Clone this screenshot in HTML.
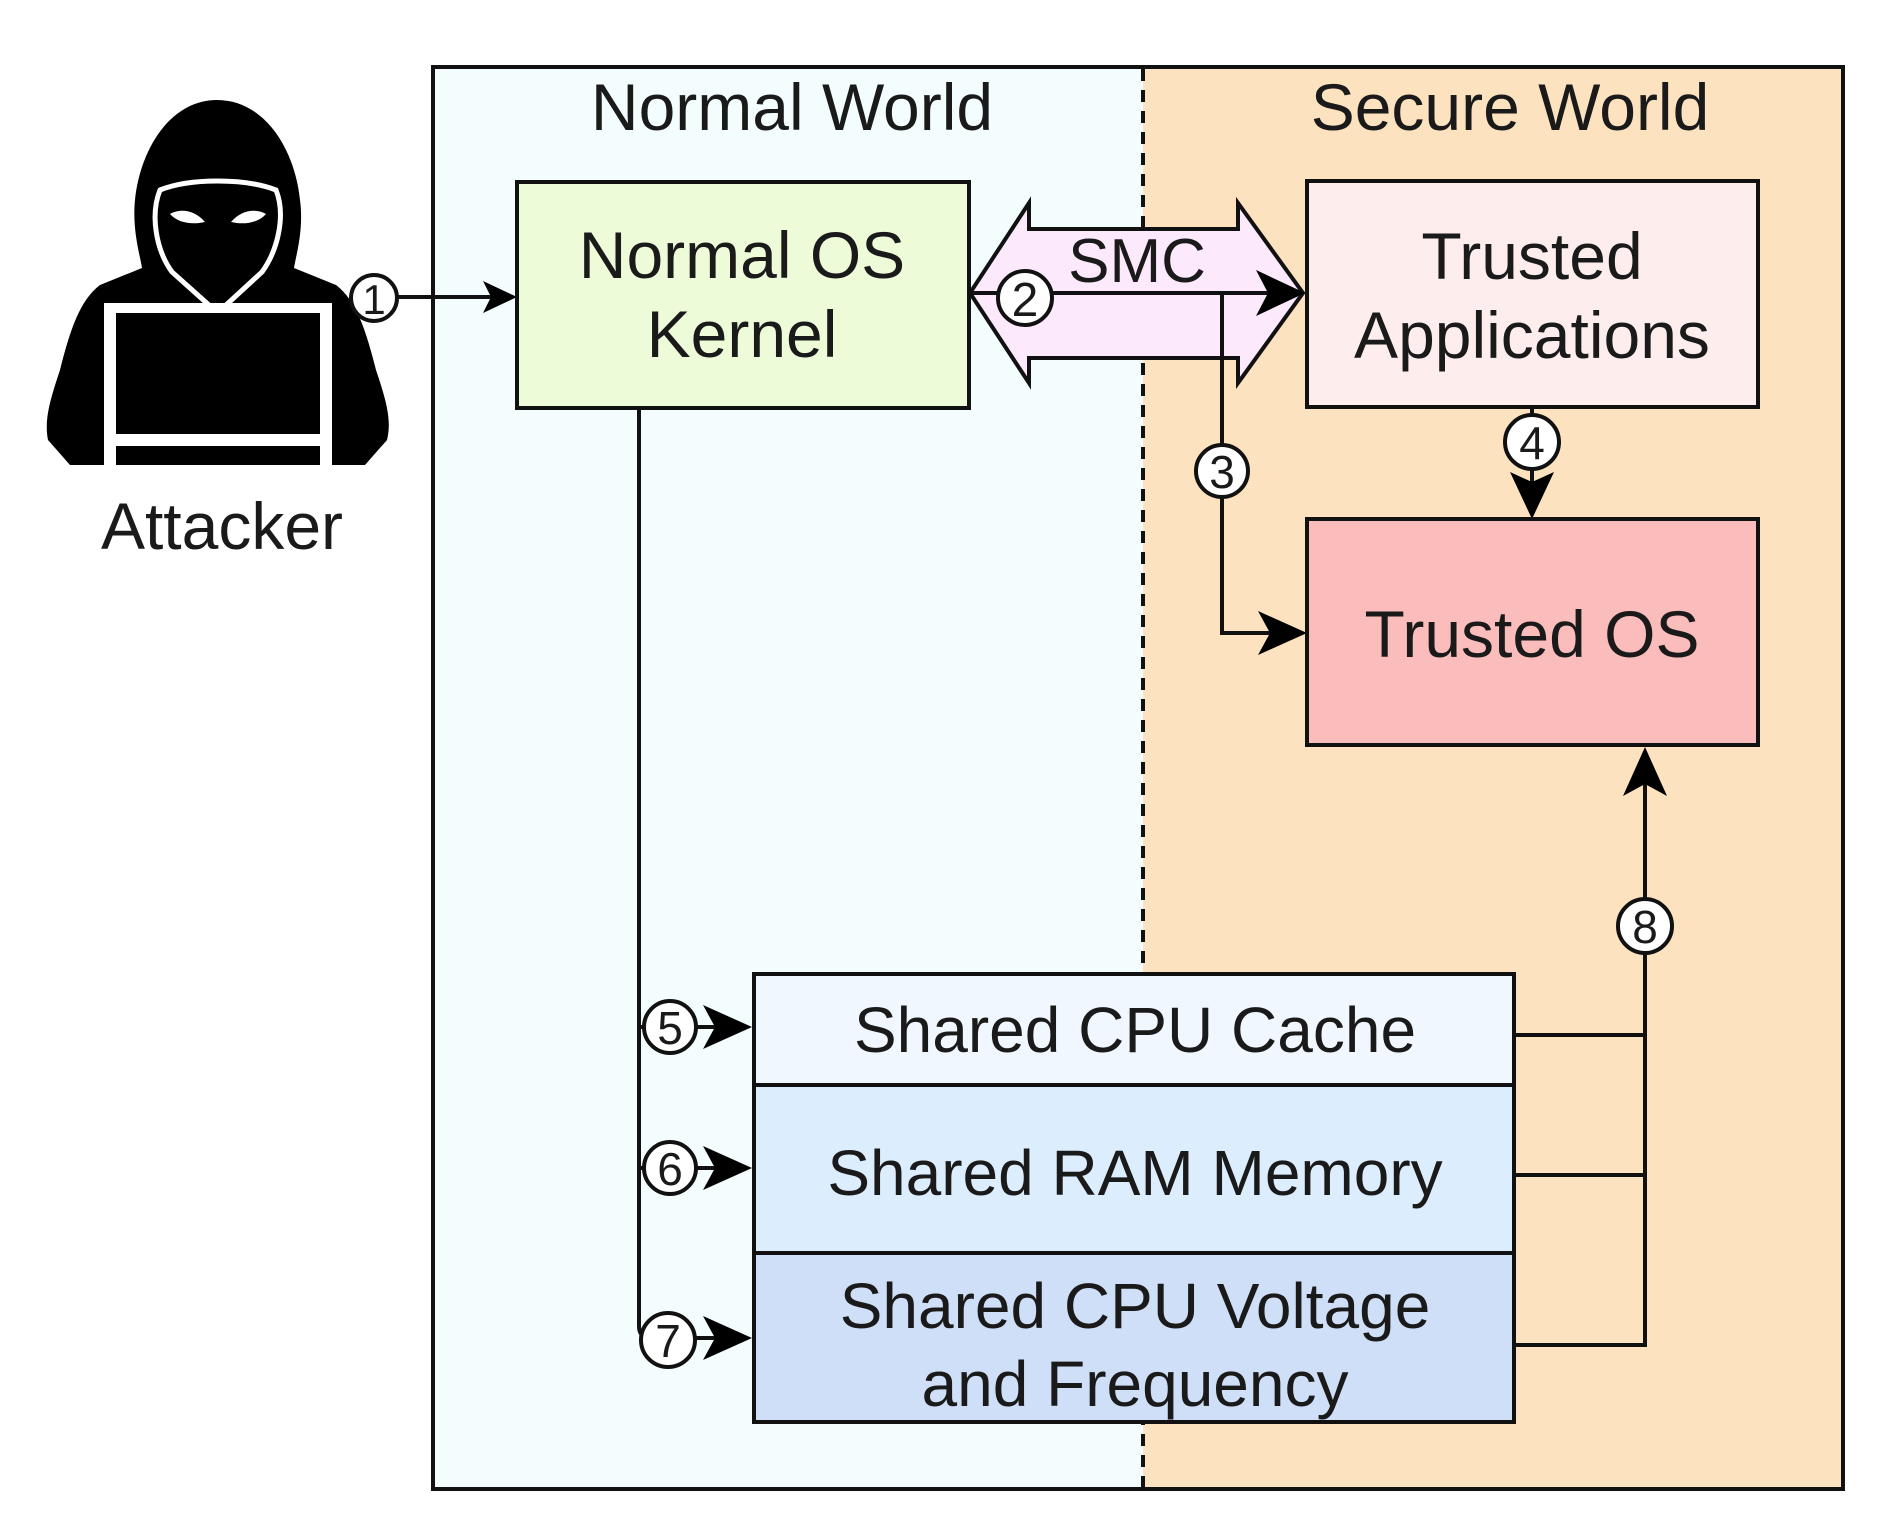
<!DOCTYPE html>
<html><head><meta charset="utf-8"><style>
html,body{margin:0;padding:0;background:#fff;}
svg{display:block;}
text{font-family:"Liberation Sans",sans-serif;fill:#1a1a1a;}
</style></head><body>
<svg width="1892" height="1519" viewBox="0 0 1892 1519" xmlns="http://www.w3.org/2000/svg">
<!-- world backgrounds -->
<rect x="433" y="67" width="710" height="1422" fill="#f3fdfd"/>
<rect x="1143" y="67" width="700" height="1422" fill="#fde2c0"/>
<rect x="433" y="67" width="1410" height="1422" fill="none" stroke="#111" stroke-width="4"/>
<line x1="1143" y1="69" x2="1143" y2="1487" stroke="#111" stroke-width="4" stroke-dasharray="12,9"/>
<text x="792" y="130" font-size="66" text-anchor="middle">Normal World</text>
<text x="1510" y="130" font-size="66" text-anchor="middle">Secure World</text>

<!-- attacker icon -->
<g>
<path d="M217 100 C170 100 140 150 135 200 C132 230 140 255 142 268 L100 285 C80 300 70 330 60 370 C50 400 44 420 48 440 L70 465 L365 465 L387 440 C392 420 386 400 376 370 C366 330 356 300 336 285 L294 268 C296 255 304 230 300 200 C295 150 265 100 217 100 Z" fill="#000"/>
<path d="M160 190 C190 178 245 178 276 190 C286 215 278 250 262 272 L225 306 L210 306 L172 272 C156 250 150 215 160 190 Z" fill="#000" stroke="#fff" stroke-width="5"/>
<path d="M170 214 C180 208 195 210 205 222 C192 225 178 223 170 214 Z" fill="#fff"/>
<path d="M266 214 C256 208 241 210 231 222 C244 225 258 223 266 214 Z" fill="#fff"/>
<rect x="104" y="303" width="228" height="162" fill="#fff"/>
<rect x="116" y="313" width="204" height="121" fill="#000"/>
<rect x="116" y="446" width="204" height="19" fill="#000"/>
</g>
<text x="222" y="549" font-size="66" text-anchor="middle">Attacker</text>

<!-- arrow 1 -->
<line x1="396" y1="297" x2="505" y2="297" stroke="#111" stroke-width="4"/>
<path d="M517 297 L483 281 L491 297 L483 313 Z" fill="#000"/>
<circle cx="374" cy="298" r="23" fill="#fff" stroke="#111" stroke-width="4"/>
<text x="374" y="314" font-size="42" text-anchor="middle">1</text>

<!-- Normal OS Kernel -->
<rect x="517" y="182" width="452" height="226" fill="#eefbd9" stroke="#111" stroke-width="4"/>
<text x="742" y="278" font-size="66" text-anchor="middle">Normal OS</text>
<text x="742" y="357" font-size="66" text-anchor="middle">Kernel</text>

<!-- SMC double arrow -->
<path d="M970 293 L1029 203 L1029 229 L1238 229 L1238 203 L1303 293 L1238 383 L1238 358 L1029 358 L1029 383 Z" fill="#fce9fb" stroke="#111" stroke-width="4"/>
<text x="1137" y="282" font-size="62" text-anchor="middle">SMC</text>
<line x1="970" y1="293" x2="1290" y2="293" stroke="#111" stroke-width="4"/>
<path d="M1305 293 L1256 270 L1268 293 L1256 316 Z" fill="#000"/>
<circle cx="1025" cy="298" r="27" fill="#fff" stroke="#111" stroke-width="4"/>
<text x="1025" y="316" font-size="48" text-anchor="middle">2</text>

<!-- arrow 3 -->
<polyline points="1222,293 1222,633 1295,633" fill="none" stroke="#111" stroke-width="4"/>
<path d="M1307 633 L1258 611 L1270 633 L1258 655 Z" fill="#000"/>
<circle cx="1222" cy="471" r="26" fill="#fff" stroke="#111" stroke-width="4"/>
<text x="1222" y="488" font-size="46" text-anchor="middle">3</text>

<!-- Trusted Applications -->
<rect x="1307" y="181" width="451" height="226" fill="#fdeded" stroke="#111" stroke-width="4"/>
<text x="1532" y="279" font-size="66" text-anchor="middle">Trusted</text>
<text x="1532" y="358" font-size="66" text-anchor="middle">Applications</text>

<!-- arrow 4 -->
<line x1="1532" y1="407" x2="1532" y2="505" stroke="#111" stroke-width="4"/>
<path d="M1532 519 L1510 472 L1532 482 L1554 472 Z" fill="#000"/>
<circle cx="1532" cy="442" r="27" fill="#fff" stroke="#111" stroke-width="4"/>
<text x="1532" y="459" font-size="46" text-anchor="middle">4</text>

<!-- Trusted OS -->
<rect x="1307" y="519" width="451" height="226" fill="#fbbcbc" stroke="#111" stroke-width="4"/>
<text x="1532" y="657" font-size="66" text-anchor="middle">Trusted OS</text>

<!-- left vertical line and arrows 5,6,7 -->
<path d="M639 408 L639 1326 Q639 1338 651 1338" fill="none" stroke="#111" stroke-width="4"/>
<line x1="639" y1="1027" x2="740" y2="1027" stroke="#111" stroke-width="4"/>
<line x1="639" y1="1168" x2="740" y2="1168" stroke="#111" stroke-width="4"/>
<line x1="651" y1="1338" x2="740" y2="1338" stroke="#111" stroke-width="4"/>
<path d="M752 1027 L703 1005 L715 1027 L703 1049 Z" fill="#000"/>
<path d="M752 1168 L703 1146 L715 1168 L703 1190 Z" fill="#000"/>
<path d="M752 1338 L703 1316 L715 1338 L703 1360 Z" fill="#000"/>
<circle cx="670" cy="1027" r="26" fill="#fff" stroke="#111" stroke-width="4"/>
<text x="670" y="1044" font-size="46" text-anchor="middle">5</text>
<circle cx="670" cy="1168" r="26" fill="#fff" stroke="#111" stroke-width="4"/>
<text x="670" y="1185" font-size="46" text-anchor="middle">6</text>
<circle cx="668" cy="1340" r="27" fill="#fff" stroke="#111" stroke-width="4"/>
<text x="668" y="1357" font-size="46" text-anchor="middle">7</text>

<!-- shared boxes -->
<rect x="754" y="974" width="760" height="111" fill="#f0f7fe" stroke="#111" stroke-width="4"/>
<rect x="754" y="1085" width="760" height="168" fill="#dcedfd" stroke="#111" stroke-width="4"/>
<rect x="754" y="1253" width="760" height="169" fill="#cfdff8" stroke="#111" stroke-width="4"/>
<text x="1135" y="1052" font-size="64" text-anchor="middle">Shared CPU Cache</text>
<text x="1135" y="1195" font-size="64" text-anchor="middle">Shared RAM Memory</text>
<text x="1135" y="1328" font-size="64" text-anchor="middle">Shared CPU Voltage</text>
<text x="1135" y="1406" font-size="64" text-anchor="middle">and Frequency</text>

<!-- arrow 8 -->
<line x1="1514" y1="1035" x2="1645" y2="1035" stroke="#111" stroke-width="4"/>
<line x1="1514" y1="1175" x2="1645" y2="1175" stroke="#111" stroke-width="4"/>
<polyline points="1514,1345 1645,1345 1645,762" fill="none" stroke="#111" stroke-width="4"/>
<path d="M1645 747 L1623 796 L1645 784 L1667 796 Z" fill="#000"/>
<circle cx="1645" cy="926" r="27" fill="#fff" stroke="#111" stroke-width="4"/>
<text x="1645" y="943" font-size="46" text-anchor="middle">8</text>
</svg>
</body></html>
